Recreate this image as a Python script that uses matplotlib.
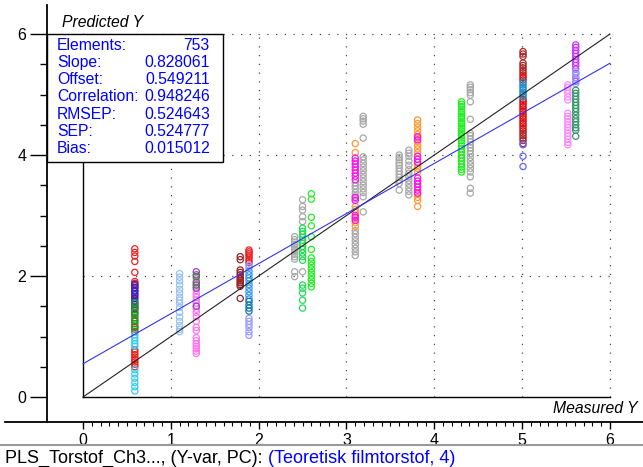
import numpy as np
import matplotlib.pyplot as plt
from matplotlib.patches import Rectangle
from matplotlib.lines import Line2D

plt.rcParams['font.family'] = ['Liberation Sans', 'DejaVu Sans']

stat_names = ["Elements:", "Slope:", "Offset:", "Correlation:", "RMSEP:", "SEP:", "Bias:"]
stat_values = ["753", "0.828061", "0.549211", "0.948246", "0.524643", "0.524777", "0.015012"]
slope = 0.828061
offset = 0.549211

x_ticks = [0, 1, 2, 3, 4, 5, 6]
y_ticks = [0, 2, 4, 6]

# predicted Y for each sample group
g1_red = [2.45, 2.39, 2.33, 2.24, 2.06, 1.91, 1.88, 1.84, 1.80, 1.76, 1.71, 1.66, 1.50, 1.38,
          1.25, 1.15, 1.08, 0.78, 0.74, 0.70, 0.66, 0.62, 0.58, 0.54, 0.50]
g1_blue = [1.86, 1.81, 1.75, 1.69, 1.63, 1.58, 1.53, 1.46]
g1_green = [1.56, 1.49, 1.44, 1.40, 1.35, 1.31, 1.27, 1.21, 1.17, 1.12]
g1_cyan = [1.03, 0.98, 0.93, 0.88, 0.84, 0.45, 0.38, 0.31, 0.24, 0.17, 0.10]
g2_lightblue = [2.04, 1.98, 1.92, 1.85, 1.78, 1.72, 1.65, 1.60, 1.55, 1.48, 1.40, 1.32,
                1.25, 1.18, 1.12, 1.08]
g3_purple = [2.07, 2.02, 1.90, 1.80, 1.50]
g3_green = [1.99, 1.85]
g3_pink = [1.95, 1.88, 1.82, 1.76, 1.70, 1.65, 1.60, 1.55, 1.50, 1.45, 1.40, 1.33, 1.25,
           1.15, 1.10, 0.98, 0.93, 0.88, 0.84, 0.80, 0.76, 0.72]
g4_maroon = [2.32, 2.27, 2.10, 2.06, 2.02, 1.98, 1.95, 1.92, 1.89, 1.86, 1.83, 1.63]
g5_red = [2.43, 2.40, 2.37, 2.34, 2.30, 2.26, 2.22]
g5_lavender = [2.18, 2.14, 1.30, 1.25, 1.20, 1.15, 1.08, 1.02]
g5_dodger = [2.08, 2.02, 1.97, 1.92, 1.86, 1.80, 1.74, 1.68, 1.62]
g5_steel = [1.58, 1.52, 1.47, 1.42]
g6_gray = [2.65, 2.60, 2.56, 2.52, 2.48, 2.44, 2.40, 2.36, 2.32, 2.28, 2.07, 1.99]
g7_gray = [3.26, 3.15, 3.09, 2.98, 2.90, 2.07]
g7_green = [2.79, 2.74, 2.69, 2.64, 2.59, 2.54, 2.49, 2.44, 2.38, 2.32, 2.26, 1.85, 1.80,
            1.72, 1.60, 1.47]
g8_lime = [3.36, 3.27, 2.97, 2.83, 2.65, 2.44, 2.30, 2.24, 2.18, 2.12, 2.06, 2.00, 1.94,
           1.88, 1.82]
g9_orange = [4.19, 4.04, 3.15, 3.10, 3.05, 2.95, 2.88, 2.82]
g9_magenta = [3.95, 3.90, 3.85, 3.80, 3.75, 3.70, 3.65, 3.59, 3.30, 3.25, 3.00, 2.97, 2.92]
g9_gray = [3.54, 3.49, 3.44, 3.38, 3.33, 3.28, 2.75, 2.70, 2.64, 2.58, 2.52, 2.46, 2.40, 2.34]
g10_gray = [4.64, 4.60, 4.56, 4.51, 4.28, 3.97, 3.92, 3.86, 3.80, 3.74, 3.68, 3.62, 3.56,
            3.50, 3.44, 3.38, 3.31, 3.06]
g11_gray = [4.00, 3.96, 3.92, 3.87, 3.83, 3.78, 3.73, 3.68, 3.63, 3.58, 3.53, 3.42]
g12_gray = [4.08, 4.03, 3.98, 3.90, 3.83, 3.76, 3.70, 3.64, 3.58, 3.52, 3.46, 3.40, 3.34]
g13_orange = [4.58, 4.52, 4.46, 4.40, 4.34, 4.28, 4.22, 4.16, 4.10, 4.04, 3.83, 3.78, 3.72,
              3.35, 3.30, 3.25, 3.15]
g13_magenta = [4.30, 4.25, 3.98, 3.93, 3.88, 3.62, 3.57, 3.52, 3.47, 3.42, 3.37]
g14_lime = [4.88, 4.84, 4.80, 4.76, 4.72, 4.68, 4.64, 4.60, 4.56, 4.52, 4.48, 4.44, 4.40,
            4.36, 4.32, 4.28, 4.24, 4.20, 4.15, 4.10, 4.05, 4.00, 3.95, 3.90, 3.85, 3.80,
            3.76, 3.72]
g15_gray = [5.16, 5.12, 5.08, 5.03, 4.99, 4.88, 4.59, 4.36, 4.32, 4.27, 4.22, 4.17, 4.12,
            4.07, 4.02, 3.96, 3.90, 3.84, 3.78, 3.72, 3.64, 3.45, 3.37]
g16_maroon = [5.71, 5.67, 5.63, 5.52, 5.48, 5.44, 5.40, 5.36, 4.40, 4.36, 4.32, 4.28, 4.24, 4.19]
g16_red = [5.32, 5.28, 5.24, 4.92, 4.88, 4.84, 4.80, 4.76, 4.72, 4.68, 4.64, 4.60, 4.56,
           4.52, 4.48, 4.44]
g16_steel = [5.20, 5.16, 5.12, 5.08, 5.04, 5.00, 4.96]
g16_blue = [4.17, 3.98, 3.81]
g17_pink = [5.16, 5.12, 5.07, 5.02, 4.96, 4.91, 4.69, 4.64, 4.60, 4.55, 4.50, 4.46, 4.41,
            4.36, 4.31, 4.26, 4.21, 4.17]
g18_purple = [5.82, 5.78, 5.73, 5.68, 5.63, 5.58, 5.53, 5.48, 5.42, 5.35, 5.28, 5.22]
g18_lavender = [5.38, 5.33, 5.25, 5.18]
g18_teal = [5.07, 5.02, 4.97, 4.92, 4.87, 4.82, 4.77, 4.72, 4.66, 4.60, 4.55, 4.50, 4.45,
            4.41, 4.31]

# (measured Y, predicted list, colour)
groups = [
    (0.59, g1_red, '#EE2222'), (0.59, g1_blue, '#2222DD'), (0.59, g1_green, '#229922'),
    (0.59, g1_cyan, '#33CCEE'),
    (1.10, g2_lightblue, '#99C2EE'),
    (1.29, g3_pink, '#FF77EE'), (1.29, g3_purple, '#9944BB'), (1.29, g3_green, '#229922'),
    (1.79, g4_maroon, '#992222'),
    (1.89, g5_red, '#EE2222'), (1.89, g5_lavender, '#9999FF'), (1.89, g5_dodger, '#3399EE'),
    (1.89, g5_steel, '#1177AA'),
    (2.41, g6_gray, '#A8A8A8'),
    (2.50, g7_gray, '#A8A8A8'), (2.50, g7_green, '#22DD55'),
    (2.60, g8_lime, '#22EE22'),
    (3.10, g9_gray, '#A8A8A8'), (3.10, g9_orange, '#FF9933'), (3.10, g9_magenta, '#FF11EE'),
    (3.19, g10_gray, '#A8A8A8'),
    (3.60, g11_gray, '#A8A8A8'),
    (3.71, g12_gray, '#A8A8A8'),
    (3.81, g13_orange, '#FF9933'), (3.81, g13_magenta, '#FF11EE'),
    (4.31, g14_lime, '#22EE22'),
    (4.41, g15_gray, '#A8A8A8'),
    (5.01, g16_maroon, '#AA2A2A'), (5.01, g16_red, '#DD1111'), (5.01, g16_steel, '#1A8CC8'),
    (5.01, g16_blue, '#6666FF'),
    (5.52, g17_pink, '#FF88FF'),
    (5.61, g18_purple, '#CC33FF'), (5.61, g18_lavender, '#88AAFF'), (5.61, g18_teal, '#339966'),
]

fig = plt.figure(figsize=(6.43, 4.67), dpi=100)
W, H = 643, 467
ax = fig.add_axes([5 / W, (H - 422) / H, 638 / W, 417 / H])
ax.set_xlim(-0.888, 6.376)
ax.set_ylim(-0.413, 6.48)

for sp in ['top', 'right']:
    ax.spines[sp].set_visible(False)
ax.spines['left'].set_position(('data', -0.41))
ax.spines['left'].set_linewidth(1.3)
ax.spines['bottom'].set_linewidth(1.3)

ax.set_xticks(x_ticks)
ax.set_xticks(np.arange(0, 6.01, 0.1), minor=True)
ax.set_yticks(y_ticks)
ax.set_yticks(np.arange(0, 6.01, 0.5), minor=True)
ax.tick_params(axis='x', which='major', length=5, width=1, pad=3, labelsize=11.5)
ax.tick_params(axis='x', which='minor', length=3, width=0.8)
ax.tick_params(axis='y', which='major', length=12, width=1, pad=3, labelsize=11.5)
ax.tick_params(axis='y', which='minor', length=5, width=1)

# dotted grid inside the plot area
dot = (0, (1, 6))
for v in x_ticks[1:]:
    ax.plot([v, v], [0, 6], color='#444444', lw=0.9, ls=dot, zorder=1)
for v in y_ticks[1:]:
    ax.plot([0, 6], [v, v], color='#444444', lw=0.9, ls=dot, zorder=1)

# inner axes lines
ax.plot([0, 0], [0, 6], color='black', lw=1, zorder=2)
ax.plot([0, 6], [0, 0], color='black', lw=1, zorder=2)

for xv, ys, col in groups:
    ax.scatter(np.full(len(ys), xv), ys, s=20, facecolors='none', edgecolors=col,
               linewidths=0.9, zorder=3)

# target and regression lines
ax.plot([0, 6], [0, 6], color='#222222', lw=0.8, zorder=4)
ax.plot([0, 6], [offset, offset + slope * 6], color='#3333EE', lw=0.8, zorder=4)

# statistics box
ax.add_patch(Rectangle((-0.41, 3.88), 2.005, 2.12, facecolor='white', edgecolor='black',
                       lw=1, zorder=5))
for i, (name, val) in enumerate(zip(stat_names, stat_values)):
    yy = 5.818 - i * 0.286
    ax.text(-0.296, yy, name, color='blue', fontsize=11.3, va='center', ha='left', zorder=6)
    ax.text(1.446, yy, val, color='blue', fontsize=11.3, va='center', ha='right', zorder=6)

ax.text(-0.239, 6.198, "Predicted Y", fontsize=11.3, style='italic', va='center', ha='left')
ax.text(6.319, -0.198, "Measured Y", fontsize=11.3, style='italic', va='center', ha='right')

# footer
fig.add_artist(Line2D([0, 1], [(H - 445) / H] * 2, color='#999999', lw=1.5))
t1 = fig.text(5 / W, (H - 458) / H, "PLS_Torstof_Ch3..., (Y-var, PC): ", fontsize=13,
              va='center', ha='left')
ax.annotate("(Teoretisk filmtorstof, 4)", xy=(1, 0), xycoords=t1, va='bottom', ha='left',
            fontsize=13, color='blue', annotation_clip=False)

fig.savefig("out.png", dpi=100)
